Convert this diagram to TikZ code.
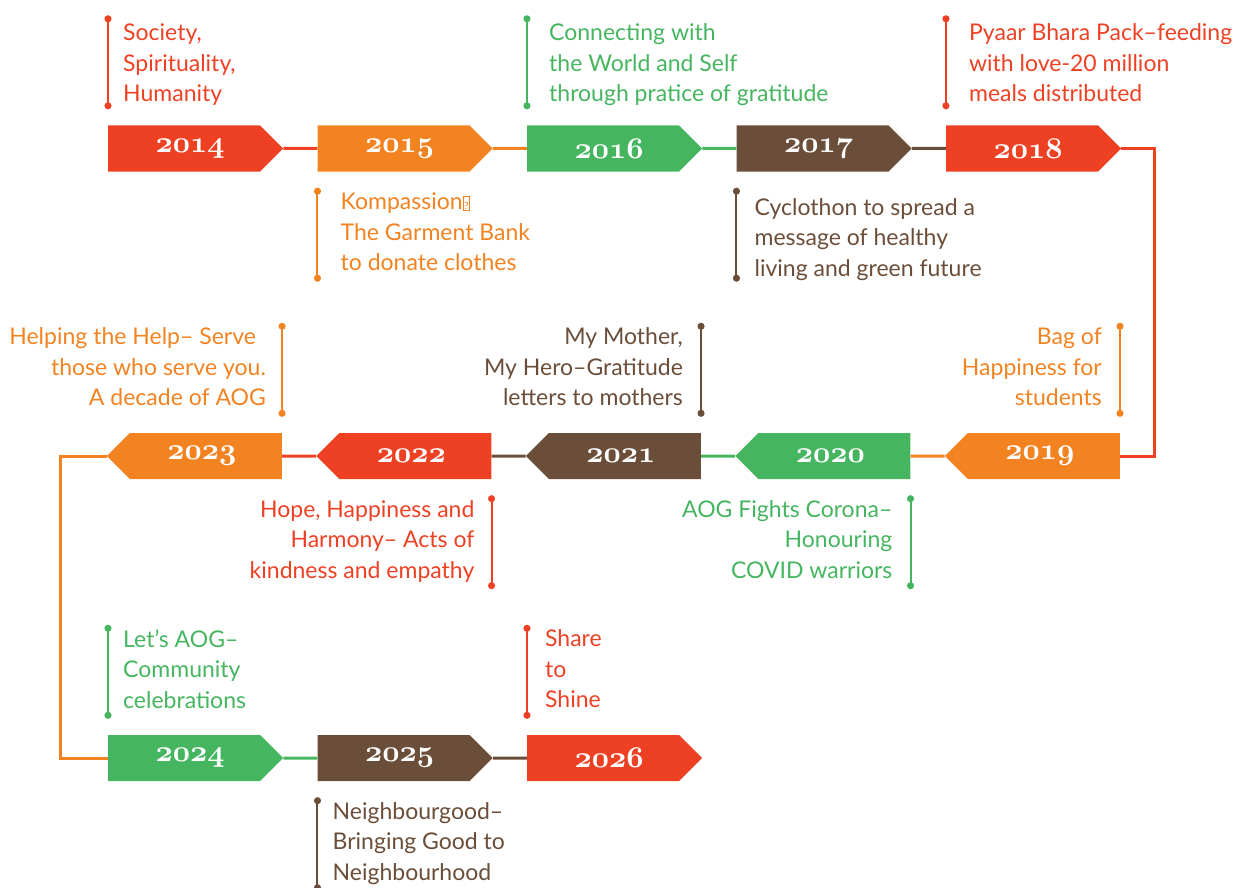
\RequirePackage{fix-cm}
\documentclass[tikz,border=0pt]{standalone}
\usepackage{fontspec}
\setmainfont{Lato}
\usetikzlibrary{arrows.meta, positioning, shapes.symbols}
\definecolor{aogred}{RGB}{238,65,36}
\definecolor{aogorange}{RGB}{243,130,33}
\definecolor{aoggreen}{RGB}{70,181,95}
\definecolor{aogbrown}{RGB}{107,78,57}
\newcommand{\yearfont}{\fontsize{30}{30}\usefont{OML}{cmm}{b}{it}}
\newcommand{\qbox}{{\setlength{\fboxsep}{0.8pt}\setlength{\fboxrule}{0.7pt}\fbox{\rule{0pt}{12pt}\fontsize{10}{10}\selectfont ?}}}

\begin{document}
\begin{tikzpicture}[x=1pt, y=1pt,
    year/.style={signal, signal pointer angle=90, signal from=nowhere, minimum width=175pt, minimum height=46pt, inner sep=0pt, text=white, font=\yearfont},
    fwd/.style={year, signal to=east, execute at begin node=\hspace*{12pt}},
    back/.style={year, signal to=west, execute at end node=\hspace*{8pt}},
    link/.style={line width=3pt},
    bar/.style={line width=2pt, {Circle[length=7pt]}-{Circle[length=7pt]}},
    note/.style={inner sep=0pt, yshift=-1.5pt, font=\fontsize{23}{30.5}\selectfont, execute at begin node=\strut, execute at end node=\strut}
  ]
  \useasboundingbox (0,0) rectangle (1245,-888);

  % first row, left to right
  \node[fwd, fill=aogred, anchor=west] (y2014) at (108,-148.5) {2014};
  \node[fwd, fill=aogorange, right=34pt of y2014] (y2015) {2015};
  \node[fwd, fill=aoggreen, right=34pt of y2015] (y2016) {2016};
  \node[fwd, fill=aogbrown, right=34pt of y2016] (y2017) {2017};
  \node[fwd, fill=aogred, right=34pt of y2017] (y2018) {2018};

  % second row, right to left
  \node[back, fill=aogorange, anchor=east] (y2019) at (1120,-456) {2019};
  \node[back, fill=aoggreen, left=34pt of y2019] (y2020) {2020};
  \node[back, fill=aogbrown, left=34pt of y2020] (y2021) {2021};
  \node[back, fill=aogred, left=34pt of y2021] (y2022) {2022};
  \node[back, fill=aogorange, left=34pt of y2022] (y2023) {2023};

  % third row
  \node[fwd, fill=aoggreen, anchor=west] (y2024) at (108,-758) {2024};
  \node[fwd, fill=aogbrown, right=34pt of y2024] (y2025) {2025};
  \node[fwd, fill=aogred, right=34pt of y2025] (y2026) {2026};

  \draw[link, aogred] (y2014) -- (y2015);
  \draw[link, aogorange] (y2015) -- (y2016);
  \draw[link, aoggreen] (y2016) -- (y2017);
  \draw[link, aogbrown] (y2017) -- (y2018);
  \draw[link, aogred] (y2018.east) -- ++(33,0) |- (y2019.east);
  \draw[link, aogorange] (y2019) -- (y2020);
  \draw[link, aoggreen] (y2020) -- (y2021);
  \draw[link, aogbrown] (y2021) -- (y2022);
  \draw[link, aogred] (y2022) -- (y2023);
  \draw[link, aogorange] (y2023.west) -- ++(-46,0) |- (y2024.west);
  \draw[link, aoggreen] (y2024) -- (y2025);
  \draw[link, aogbrown] (y2025) -- (y2026);

  % notes above / below the years
  \draw[bar, aogred] ([yshift=16pt]y2014.west |- y2014.north) -- ++(0,94) coordinate[midway] (b2014);
  \node[note, text=aogred, align=left, anchor=west, yshift=-3.5pt] (n2014) at ([xshift=15pt]b2014) {Society,\\Spirituality,\\Humanity};
  \draw[bar, aogorange] ([yshift=-16pt]y2015.west |- y2015.south) -- ++(0,-94) coordinate[midway] (b2015);
  \node[note, text=aogorange, align=left, anchor=west] (n2015) at ([xshift=23pt]b2015) {Kompassion\qbox\\The Garment Bank\\to donate clothes};
  \draw[bar, aoggreen] ([yshift=16pt]y2016.west |- y2016.north) -- ++(0,94) coordinate[midway] (b2016);
  \node[note, text=aoggreen, align=left, anchor=west, yshift=-3.5pt] (n2016) at ([xshift=22pt]b2016) {Connecting with\\the World and Self\\through pratice of gratitude};
  \draw[bar, aogbrown] ([yshift=-16pt]y2017.west |- y2017.south) -- ++(0,-94) coordinate[midway] (b2017);
  \node[note, text=aogbrown, align=left, anchor=west, yshift=-5.5pt] (n2017) at ([xshift=18pt]b2017) {Cyclothon to spread a\\message of healthy\\living and green future};
  \draw[bar, aogred] ([yshift=16pt]y2018.west |- y2018.north) -- ++(0,94) coordinate[midway] (b2018);
  \node[note, text=aogred, align=left, anchor=west, yshift=-3.5pt] (n2018) at ([xshift=23pt]b2018) {Pyaar Bhara Pack–feeding\\with love-20 million\\meals distributed};

  \draw[bar, aogorange] ([yshift=16pt]y2019.east |- y2019.north) -- ++(0,94) coordinate[midway] (b2019);
  \node[note, text=aogorange, align=right, anchor=east] (n2019) at ([xshift=-18pt]b2019) {Bag of\\Happiness for\\students};
  \draw[bar, aoggreen] ([yshift=-16pt]y2020.east |- y2020.south) -- ++(0,-94) coordinate[midway] (b2020);
  \node[note, text=aoggreen, align=right, anchor=east] (n2020) at ([xshift=-18pt]b2020) {AOG Fights Corona–\\Honouring\\COVID warriors};
  \draw[bar, aogbrown] ([yshift=16pt]y2021.east |- y2021.north) -- ++(0,94) coordinate[midway] (b2021);
  \node[note, text=aogbrown, align=right, anchor=east] (n2021) at ([xshift=-18pt]b2021) {My Mother,\\My Hero–Gratitude\\letters to mothers};
  \draw[bar, aogred] ([yshift=-16pt]y2022.east |- y2022.south) -- ++(0,-94) coordinate[midway] (b2022);
  \node[note, text=aogred, align=right, anchor=east] (n2022) at ([xshift=-17pt]b2022) {Hope, Happiness and\\Harmony– Acts of\\kindness and empathy};
  \draw[bar, aogorange] ([yshift=16pt]y2023.east |- y2023.north) -- ++(0,94) coordinate[midway] (b2023);
  \node[note, text=aogorange, align=right, anchor=east] (n2023) at ([xshift=-16pt]b2023) {Helping the Help– Serve\hspace*{10pt}\\those who serve you.\\A decade of AOG};

  \draw[bar, aoggreen] ([yshift=16pt]y2024.west |- y2024.north) -- ++(0,94) coordinate[midway] (b2024);
  \node[note, text=aoggreen, align=left, anchor=west] (n2024) at ([xshift=15pt]b2024) {Let’s AOG–\\Community\\celebrations};
  \draw[bar, aogbrown] ([yshift=-16pt]y2025.west |- y2025.south) -- ++(0,-94) coordinate[midway] (b2025);
  \node[note, text=aogbrown, align=left, anchor=west] (n2025) at ([xshift=15pt]b2025) {Neighbourgood–\\Bringing Good to\\Neighbourhood};
  \draw[bar, aogred] ([yshift=16pt]y2026.west |- y2026.north) -- ++(0,94) coordinate[midway] (b2026);
  \node[note, text=aogred, align=left, anchor=west] (n2026) at ([xshift=18pt]b2026) {Share\\to\\Shine};
\end{tikzpicture}
\end{document}
